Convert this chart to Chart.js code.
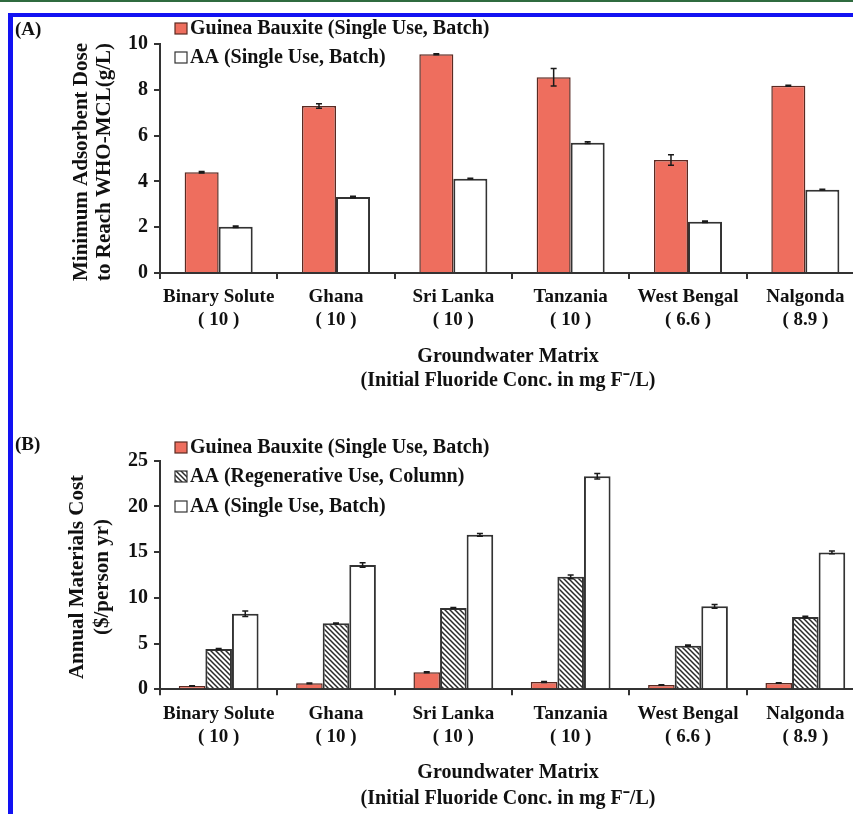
<!DOCTYPE html>
<html>
<head>
<meta charset="utf-8">
<script src="https://cdn.jsdelivr.net/npm/chart.js@4.4.1/dist/chart.umd.min.js"></script>
<style>
html, body { margin: 0; padding: 0; background: #fff; overflow: hidden; }
#wrap { position: relative; width: 853px; height: 814px; overflow: hidden; }
canvas { position: absolute; left: 0; }
#cA { top: 0; }
#cB { top: 400px; }
.green { position: absolute; left: 0; top: 0; width: 853px; height: 2px; background: #2f6b3f; }
.bt { position: absolute; left: 8px; top: 13px; width: 845px; height: 4px; background: #1212f2; }
.bl { position: absolute; left: 8px; top: 13px; width: 5px; height: 801px; background: #1212f2; }
</style>
</head>
<body>
<div id="wrap">
  <canvas id="cA" width="866" height="400"></canvas>
  <canvas id="cB" width="866" height="414"></canvas>
  <div class="green"></div>
  <div class="bt"></div>
  <div class="bl"></div>
</div>
<script>
// groundwater matrices and their initial fluoride conc (mg F-/L)
const groundwaters = ["Binary Solute", "Ghana", "Sri Lanka", "Tanzania", "West Bengal", "Nalgonda"];
const fluorideConc = ["10", "10", "10", "10", "6.6", "8.9"];

// (A) minimum adsorbent dose, g/L
const doseBauxite = [4.40, 7.29, 9.55, 8.55, 4.93, 8.18];
const doseBauxiteErr = [0.03, 0.10, 0.02, 0.38, 0.23, 0.02];
const doseAA = [2.02, 3.32, 4.12, 5.69, 2.24, 3.64];
const doseAAErr = [0.03, 0.03, 0.02, 0.04, 0.03, 0.02];

// (B) annual materials cost, $/person yr
const costBauxite = [0.36, 0.65, 1.86, 0.80, 0.47, 0.69];
const costBauxiteErr = [0.03, 0.03, 0.05, 0.05, 0.03, 0.03];
const costAARegen = [4.40, 7.21, 8.89, 12.3, 4.77, 7.90];
const costAARegenErr = [0.05, 0.05, 0.05, 0.2, 0.08, 0.08];
const costAASingle = [8.26, 13.6, 16.9, 23.3, 9.07, 14.97];
const costAASingleErr = [0.3, 0.25, 0.15, 0.3, 0.2, 0.15];

const labels = groundwaters.map((g, i) => [g, "( " + fluorideConc[i] + " )"]);

const FONT = "'Liberation Serif', 'Times New Roman', serif";
Chart.defaults.font.family = FONT;
Chart.defaults.color = "#111";

const RED = "#ee6e5e";
const RED_EDGE = "#5a2a22";
const DARK = "#333";

function makeHatch() {
  const c = document.createElement("canvas");
  c.width = 5; c.height = 5;
  const g = c.getContext("2d");
  g.fillStyle = "#fff";
  g.fillRect(0, 0, 5, 5);
  g.strokeStyle = "#2a2a2a";
  g.lineWidth = 1.5;
  g.beginPath();
  g.moveTo(-1, -1); g.lineTo(6, 6);
  g.moveTo(-3.5, 1.5); g.lineTo(1.5, 6.5);
  g.moveTo(1.5, -3.5); g.lineTo(6.5, 1.5);
  g.stroke();
  return g.createPattern(c, "repeat");
}
const HATCH = makeHatch();

// error bars from dataset.errors
const errorBars = {
  id: "errorBars",
  afterDatasetsDraw(chart) {
    const ctx = chart.ctx;
    const y = chart.scales.y;
    ctx.save();
    ctx.strokeStyle = "#1a1a1a";
    ctx.lineWidth = 1.5;
    chart.data.datasets.forEach((ds, di) => {
      if (!ds.errors) return;
      chart.getDatasetMeta(di).data.forEach((bar, i) => {
        const v = ds.data[i], e = ds.errors[i];
        const top = y.getPixelForValue(v + e);
        const bot = y.getPixelForValue(v - e);
        ctx.beginPath();
        ctx.moveTo(bar.x, top); ctx.lineTo(bar.x, bot);
        ctx.moveTo(bar.x - 3, top); ctx.lineTo(bar.x + 3, top);
        ctx.moveTo(bar.x - 3, bot); ctx.lineTo(bar.x + 3, bot);
        ctx.stroke();
      });
    });
    ctx.restore();
  }
};

// panel label, legend, axis titles
const decor = {
  id: "decor",
  afterDraw(chart, args, o) {
    const ctx = chart.ctx;
    ctx.save();
    ctx.fillStyle = "#111";
    ctx.textBaseline = "middle";
    ctx.font = "bold 19px " + FONT;
    ctx.textAlign = "left";
    ctx.fillText(o.panel, 15, o.panelY);

    chart.data.datasets.forEach((ds, i) => {
      const ly = o.legendY[i];
      ctx.fillStyle = ds.backgroundColor;
      ctx.fillRect(175, ly - 6, 12, 11);
      ctx.strokeStyle = ds.borderColor;
      ctx.lineWidth = 1.2;
      ctx.strokeRect(175, ly - 6, 12, 11);
      ctx.fillStyle = "#111";
      ctx.font = "bold 20px " + FONT;
      ctx.fillText(ds.label, 190, ly);
    });

    ctx.textAlign = "center";
    ctx.font = "bold 21px " + FONT;
    o.yTitle.forEach((t, i) => {
      ctx.save();
      ctx.translate(o.yTitleX[i], o.yTitleY);
      ctx.rotate(-Math.PI / 2);
      ctx.fillText(t, 0, 0);
      ctx.restore();
    });
    ctx.font = "bold 20px " + FONT;
    o.xTitle.forEach((t, i) => ctx.fillText(t, 508, o.xTitleY[i]));
    ctx.restore();
  }
};

function axes(max, step, bottomH) {
  return {
    x: {
      afterFit: (s) => { s.height = bottomH; },
      grid: { drawOnChartArea: false, tickLength: 6, color: DARK, lineWidth: 2, offset: true },
      border: { color: DARK, width: 2 },
      ticks: { font: { size: 19, weight: "bold", lineHeight: "23px" }, padding: 7, maxRotation: 0, autoSkip: false }
    },
    y: {
      min: 0, max: max,
      afterFit: (s) => { s.width = 160; },
      grid: { drawOnChartArea: false, tickLength: 6, color: DARK, lineWidth: 2 },
      border: { color: DARK, width: 2 },
      ticks: { stepSize: step, font: { size: 20, weight: "bold" }, padding: 6 }
    }
  };
}

new Chart(document.getElementById("cA"), {
  type: "bar",
  data: {
    labels: labels,
    datasets: [
      { label: "Guinea Bauxite (Single Use, Batch)", data: doseBauxite, errors: doseBauxiteErr,
        backgroundColor: RED, borderColor: RED_EDGE, borderWidth: 1.5 },
      { label: "AA (Single Use, Batch)", data: doseAA, errors: doseAAErr,
        backgroundColor: "#fff", borderColor: DARK, borderWidth: 2 }
    ]
  },
  options: {
    responsive: false,
    animation: false,
    layout: { padding: { left: 0, top: 44, right: 2, bottom: 0 } },
    categoryPercentage: 0.58,
    barPercentage: 1,
    scales: axes(10, 2, 127),
    plugins: {
      legend: { display: false },
      tooltip: { enabled: false },
      decor: {
        panel: "(A)", panelY: 30,
        legendY: [29, 58],
        yTitle: ["Minimum Adsorbent Dose", "to Reach WHO-MCL(g/L)"],
        yTitleX: [82, 105], yTitleY: 162,
        xTitle: ["Groundwater Matrix", "(Initial Fluoride Conc. in mg F\u207B/L)"],
        xTitleY: [357, 381]
      }
    }
  },
  plugins: [errorBars, decor]
});

new Chart(document.getElementById("cB"), {
  type: "bar",
  data: {
    labels: labels,
    datasets: [
      { label: "Guinea Bauxite (Single Use, Batch)", data: costBauxite, errors: costBauxiteErr,
        backgroundColor: RED, borderColor: RED_EDGE, borderWidth: 1.5 },
      { label: "AA (Regenerative Use, Column)", data: costAARegen, errors: costAARegenErr,
        backgroundColor: HATCH, borderColor: DARK, borderWidth: 2 },
      { label: "AA (Single Use, Batch)", data: costAASingle, errors: costAASingleErr,
        backgroundColor: "#fff", borderColor: DARK, borderWidth: 2 }
    ]
  },
  options: {
    responsive: false,
    animation: false,
    layout: { padding: { left: 0, top: 60.7, right: 2, bottom: 0 } },
    categoryPercentage: 0.68,
    barPercentage: 1,
    scales: axes(25, 5, 414 - 289.3),
    plugins: {
      legend: { display: false },
      tooltip: { enabled: false },
      decor: {
        panel: "(B)", panelY: 45,
        legendY: [48, 77, 107],
        yTitle: ["Annual Materials Cost", "($/person yr)"],
        yTitleX: [78, 103], yTitleY: 177,
        xTitle: ["Groundwater Matrix", "(Initial Fluoride Conc. in mg F\u207B/L)"],
        xTitleY: [373, 399]
      }
    }
  },
  plugins: [errorBars, decor]
});
</script>
</body>
</html>
